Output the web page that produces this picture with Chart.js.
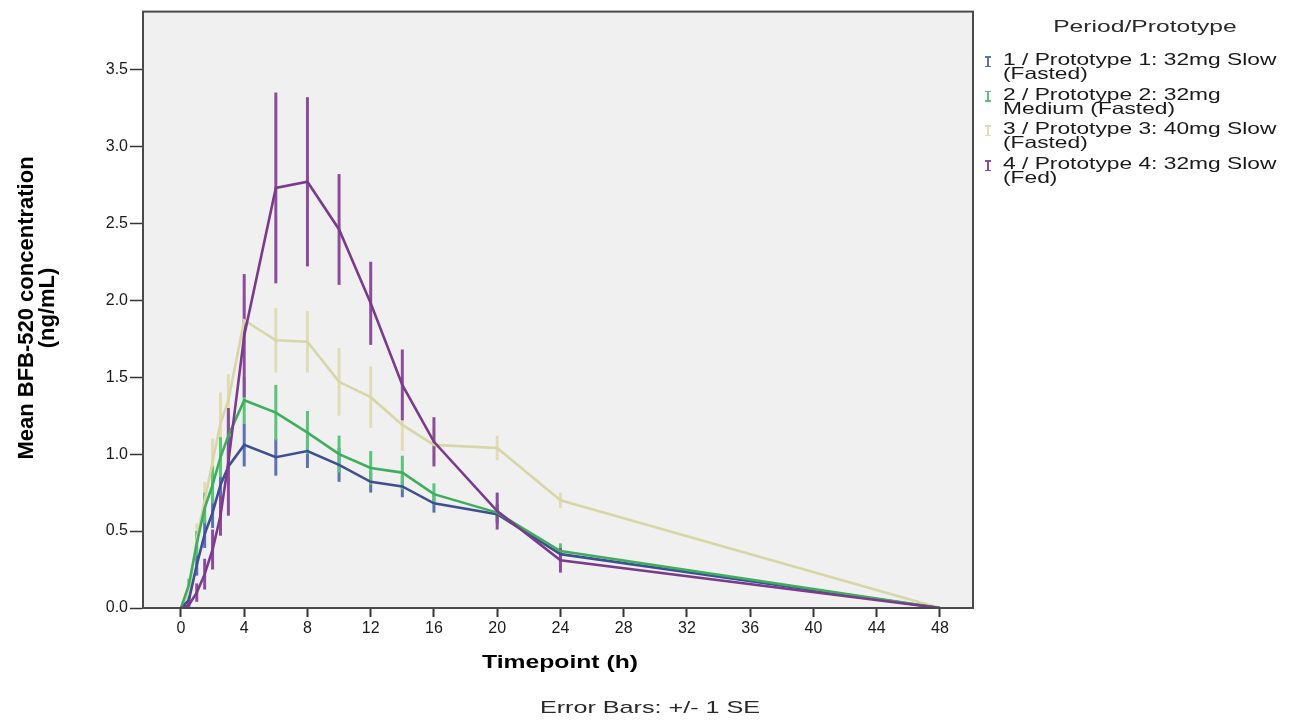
<!DOCTYPE html>
<html>
<head>
<meta charset="utf-8">
<script src="https://cdn.jsdelivr.net/npm/chart.js@4.4.1/dist/chart.umd.min.js"></script>
<style>
  html, body { margin: 0; padding: 0; background: #ffffff; }
  #wrap { position: relative; width: 1305px; height: 723px; overflow: hidden; font-family: "Liberation Sans", Arial, sans-serif; color: #111; }
  canvas { position: absolute; left: 0; top: 0; }
  .txt { position: absolute; white-space: nowrap; }
  #ytitle { left: -164px; top: 287px; width: 400px; text-align: center; font-weight: bold; font-size: 22px; line-height: 21px; transform: rotate(-90deg); transform-origin: 200px 21px; color: #000; }
  #xtitle { left: 360px; width: 400px; top: 651px; text-align: center; font-weight: bold; font-size: 19px; transform: scaleX(1.3); transform-origin: 200px 50%; color: #000; }
  #note { left: 450px; width: 400px; top: 698px; text-align: center; font-size: 17px; color: #2a2a2a; transform: scaleX(1.48); transform-origin: 200px 50%; }
  #legtitle { left: 945px; width: 400px; top: 17px; text-align: center; font-size: 17px; color: #2a2a2a; transform: scaleX(1.45); transform-origin: 200px 50%; }
  .legtext { left: 1003px; font-size: 16.5px; line-height: 14px; color: #1a1a1a; transform: scaleX(1.38); transform-origin: 0 0; }
  .icon { position: absolute; width: 6px; height: 11px; }
  .icon .v { position: absolute; left: 2px; top: 0; width: 2px; height: 11px; }
  .icon .c1, .icon .c2 { position: absolute; left: 0; width: 6px; height: 1.5px; }
  .icon .c1 { top: 0; } .icon .c2 { bottom: 0; }
</style>
</head>
<body>
<div id="wrap">
  <canvas id="c" width="1305" height="723"></canvas>
  <div id="ytitle" class="txt">Mean BFB-520 concentration<br>(ng/mL)</div>
  <div id="xtitle" class="txt">Timepoint (h)</div>
  <div id="note" class="txt">Error Bars: +/- 1 SE</div>
  <div id="legtitle" class="txt">Period/Prototype</div>
  <div id="legend"></div>
</div>
<script>
// ---- data ----
const timepoints = [0, 0.5, 1, 1.5, 2, 2.5, 3, 4, 6, 8, 10, 12, 14, 16, 20, 24, 48];
const seriesNames = [
  ["1 / Prototype 1: 32mg Slow", "(Fasted)"],
  ["2 / Prototype 2: 32mg", "Medium (Fasted)"],
  ["3 / Prototype 3: 40mg Slow", "(Fasted)"],
  ["4 / Prototype 4: 32mg Slow", "(Fed)"]
];
const p1Mean = [0, 0.05, 0.28, 0.48, 0.62, 0.80, 0.92, 1.06, 0.98, 1.02, 0.93, 0.82, 0.79, 0.68, 0.61, 0.35, 0];
const p1SE   = [0, 0.03, 0.07, 0.09, 0.10, 0.11, 0.12, 0.14, 0.12, 0.11, 0.11, 0.07, 0.07, 0.06, 0.06, 0.04, 0];
const p2Mean = [0, 0.15, 0.42, 0.65, 0.80, 0.98, 1.12, 1.35, 1.27, 1.14, 1.00, 0.91, 0.88, 0.74, 0.62, 0.37, 0];
const p2SE   = [0, 0.04, 0.08, 0.10, 0.12, 0.13, 0.14, 0.15, 0.18, 0.14, 0.12, 0.11, 0.11, 0.07, 0.06, 0.05, 0];
const p3Mean = [0, 0.10, 0.45, 0.70, 0.95, 1.20, 1.35, 1.87, 1.74, 1.73, 1.47, 1.37, 1.19, 1.06, 1.04, 0.70, 0];
const p3SE   = [0, 0.04, 0.10, 0.12, 0.15, 0.20, 0.17, 0.15, 0.21, 0.20, 0.22, 0.20, 0.17, 0.10, 0.08, 0.05, 0];
const p4Mean = [0, 0.02, 0.10, 0.22, 0.38, 0.60, 0.95, 1.77, 2.73, 2.77, 2.46, 1.98, 1.45, 1.08, 0.63, 0.31, 0];
const p4SE   = [0, 0.02, 0.06, 0.10, 0.13, 0.13, 0.35, 0.40, 0.62, 0.55, 0.36, 0.27, 0.23, 0.16, 0.12, 0.08, 0];
const xTicks = [0, 4, 8, 12, 16, 20, 24, 28, 32, 36, 40, 44, 48];
const yTicks = [0, 0.5, 1.0, 1.5, 2.0, 2.5, 3.0, 3.5];

const lineColors = ["#3e4f93", "#3fae5c", "#d8d5a6", "#7a3b8c"];
const barColors  = ["#5a72b0", "#5cc47a", "#e0ddb6", "#8c4c9e"];

const means = [p1Mean, p2Mean, p3Mean, p4Mean];
const ses = [p1SE, p2SE, p3SE, p4SE];
const drawOrder = [3, 2, 4, 1];

const datasets = means.map((m, i) => ({
  label: seriesNames[i].join(" "),
  data: timepoints.map((t, k) => ({ x: t, y: m[k] })),
  se: ses[i],
  borderColor: lineColors[i],
  backgroundColor: lineColors[i],
  borderWidth: 2.6,
  pointRadius: 0,
  tension: 0,
  order: drawOrder[i],
  barColor: barColors[i]
}));

// legend (HTML)
const leg = document.getElementById('legend');
seriesNames.forEach((lines, i) => {
  const y0 = 52 + i * 34.7;
  const ic = document.createElement('div');
  ic.className = 'icon';
  ic.style.left = '985px';
  ic.style.top = (y0 + 4) + 'px';
  ic.innerHTML = `<div class="v" style="background:${barColors[i]}"></div><div class="c1" style="background:${barColors[i]}"></div><div class="c2" style="background:${barColors[i]}"></div>`;
  leg.appendChild(ic);
  const t = document.createElement('div');
  t.className = 'txt legtext';
  t.style.top = y0 + 'px';
  t.innerHTML = lines.join('<br>');
  leg.appendChild(t);
});

const bgPlugin = {
  id: 'bg',
  beforeDraw(chart) {
    const { ctx, chartArea: a } = chart;
    ctx.save();
    ctx.fillStyle = '#f0f0f0';
    ctx.fillRect(a.left, a.top, a.right - a.left, a.bottom - a.top);
    ctx.restore();
  },
  afterDraw(chart) {
    const { ctx, chartArea: a } = chart;
    ctx.save();
    ctx.strokeStyle = '#4a4a4a';
    ctx.lineWidth = 2;
    ctx.strokeRect(a.left, a.top, a.right - a.left, a.bottom - a.top);
    ctx.restore();
  }
};

const errorBarPlugin = {
  id: 'errorBars',
  beforeDatasetsDraw(chart) {
    const { ctx, scales: { x, y } } = chart;
    ctx.save();
    ctx.lineWidth = 3;
    ctx.lineCap = 'butt';
    chart.data.datasets.slice().sort((a, b) => b.order - a.order).forEach(ds => {
      ctx.strokeStyle = ds.barColor;
      ds.data.forEach((p, k) => {
        const s = ds.se[k];
        if (!s) return;
        const px = x.getPixelForValue(p.x);
        ctx.beginPath();
        ctx.moveTo(px, y.getPixelForValue(p.y + s));
        ctx.lineTo(px, y.getPixelForValue(p.y - s));
        ctx.stroke();
      });
    });
    ctx.restore();
  }
};

new Chart(document.getElementById('c'), {
  type: 'line',
  data: { datasets },
  options: {
    responsive: false,
    animation: false,
    layout: { padding: { left: 0, top: 10, right: 332, bottom: 0 } },
    plugins: { legend: { display: false }, tooltip: { enabled: false } },
    scales: {
      x: {
        type: 'linear',
        min: -2.4,
        max: 50.09,
        afterBuildTicks: s => { s.ticks = xTicks.map(v => ({ value: v })); },
        afterFit: s => { s.height = 115; },
        grid: { drawOnChartArea: false, drawTicks: true, tickLength: 9, tickWidth: 2, tickColor: '#333' },
        border: { display: true, color: '#4a4a4a', width: 2 },
        ticks: { font: { family: 'Liberation Sans', size: 16 }, color: '#1a1a1a', padding: 2, maxRotation: 0, autoSkip: false, callback: v => String(v) }
      },
      y: {
        min: 0,
        max: 3.876,
        afterBuildTicks: s => { s.ticks = yTicks.map(v => ({ value: v })); },
        afterFit: s => { s.width = 143; },
        grid: { drawOnChartArea: false, drawTicks: true, tickLength: 13, tickWidth: 1.5, tickColor: '#333' },
        border: { display: true, color: '#4a4a4a', width: 2 },
        ticks: { font: { family: 'Liberation Sans', size: 16 }, color: '#1a1a1a', padding: 2, callback: v => Number(v).toFixed(1) }
      }
    }
  },
  plugins: [bgPlugin, errorBarPlugin]
});
</script>
</body>
</html>
